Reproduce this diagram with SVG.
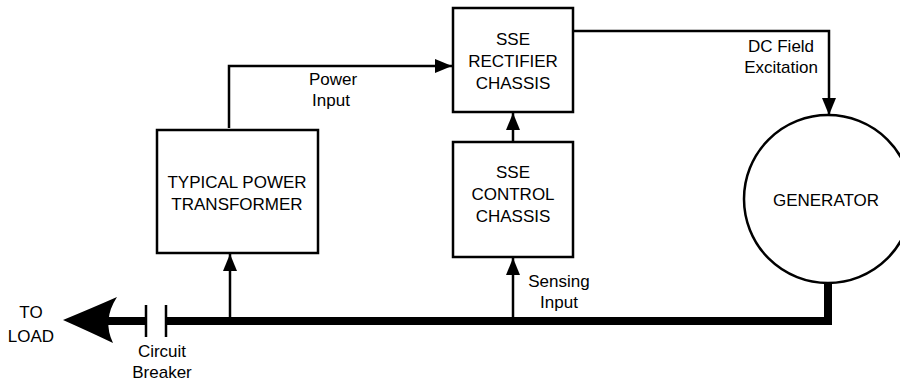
<svg xmlns="http://www.w3.org/2000/svg" width="900" height="381" viewBox="0 0 900 381">
<defs>
<marker id="arr" markerUnits="userSpaceOnUse" markerWidth="17" markerHeight="14" refX="17" refY="7" orient="auto">
<path d="M0,0 L17,7 L0,14 z" fill="#000"/>
</marker>
<style>
.box{fill:#fff;stroke:#000;stroke-width:2.5}
.ln{fill:none;stroke:#000;stroke-width:2.5}
.bus{fill:none;stroke:#000;stroke-width:8;stroke-linejoin:miter}
.t{font-family:"Liberation Sans",Arial,Helvetica,sans-serif;font-size:17px;fill:#000;text-anchor:middle}
</style>
</defs>
<rect width="900" height="381" fill="#fff"/>
<g id="connectors">
<path class="ln" d="M229,128 V66 H452" marker-end="url(#arr)"/>
<path class="ln" d="M573,31 H829 V115" marker-end="url(#arr)"/>
<path class="ln" d="M513,142 V113" marker-end="url(#arr)"/>
<path class="ln" d="M230,318 V254" marker-end="url(#arr)"/>
<path class="ln" d="M513,318 V258" marker-end="url(#arr)"/>
<path class="bus" d="M166,321 H828 V282"/>
<path class="bus" d="M105,321 H146"/>
<path d="M63,320 Q92,308 117,297 Q102,320 113,343 Q90,332 63,320 Z" fill="#000"/>
<path class="ln" d="M146,305 V337 M166,305 V337" stroke-width="3"/>
<text class="t" x="333" y="85">Power</text>
<text class="t" x="331" y="106">Input</text>
<text class="t" x="781" y="52">DC Field</text>
<text class="t" x="781" y="73">Excitation</text>
<text class="t" x="559" y="287">Sensing</text>
<text class="t" x="559" y="308">Input</text>
<text class="t" x="31" y="318">TO</text>
<text class="t" x="31" y="342">LOAD</text>
<text class="t" x="162" y="357">Circuit</text>
<text class="t" x="162" y="378">Breaker</text>
</g>
<g id="transformer">
<rect class="box" x="157" y="130" width="161" height="123"/>
<text class="t" x="237" y="188">TYPICAL POWER</text>
<text class="t" x="237" y="210">TRANSFORMER</text>
</g>
<g id="rectifier">
<rect class="box" x="453" y="8" width="120" height="104"/>
<text class="t" x="513" y="45">SSE</text>
<text class="t" x="513" y="67">RECTIFIER</text>
<text class="t" x="513" y="89">CHASSIS</text>
</g>
<g id="control">
<rect class="box" x="453" y="142" width="120" height="115"/>
<text class="t" x="513" y="178">SSE</text>
<text class="t" x="513" y="200">CONTROL</text>
<text class="t" x="513" y="222">CHASSIS</text>
</g>
<g id="generator">
<circle cx="828" cy="199" r="84" fill="#fff" stroke="#000" stroke-width="2.5"/>
<text class="t" x="826" y="206">GENERATOR</text>
</g>
</svg>
